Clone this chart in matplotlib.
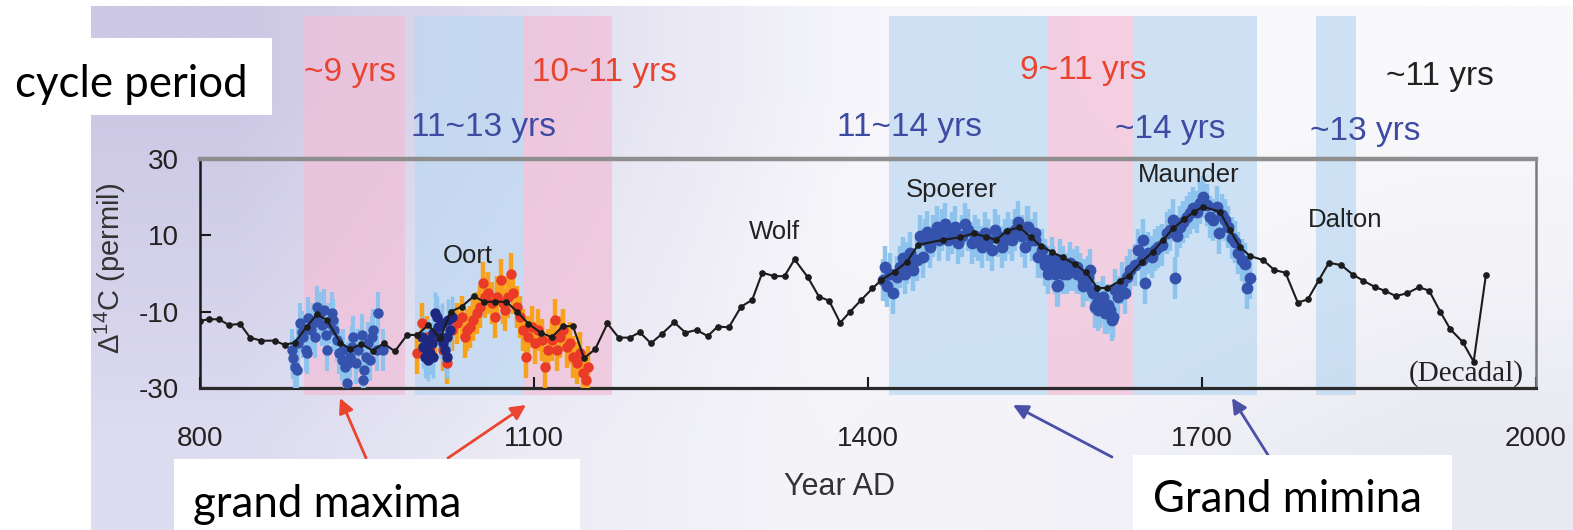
import numpy as np
import matplotlib
matplotlib.use("Agg")
import matplotlib.pyplot as plt
from matplotlib import font_manager
from matplotlib.patches import Rectangle

# ---------------- data ----------------
decadal_years = [800, 808, 817, 826, 836, 845, 855, 867, 876, 885, 896, 905, 914, 926, 935, 945, 955, 965,
                 975, 986, 995, 1005, 1016, 1025, 1035, 1046, 1055, 1065, 1075, 1085, 1095, 1106, 1116,
                 1126, 1135, 1145, 1155, 1166, 1176, 1186, 1195, 1205, 1215, 1226, 1236, 1246, 1256, 1265,
                 1275, 1286, 1296, 1305, 1316, 1325, 1334, 1346, 1356, 1365, 1375, 1384, 1394, 1404, 1412,
                 1424, 1435, 1445, 1467, 1483, 1495, 1506, 1515, 1525, 1536, 1546, 1555, 1565, 1575, 1586,
                 1596, 1606, 1615, 1626, 1634, 1646, 1656, 1665, 1674, 1684, 1693, 1701, 1716, 1725, 1734,
                 1743, 1755, 1765, 1775, 1786, 1795, 1805, 1814, 1825, 1836, 1845, 1855, 1864, 1874, 1884,
                 1895, 1904, 1914, 1923, 1934, 1944, 1955]
decadal_d14c = [-12.4, -12.0, -12.0, -13.5, -13.2, -16.8, -17.6, -17.6, -18.7, -18.1, -13.9, -10.7, -12.2,
                -18.1, -19.8, -18.5, -20.2, -18.3, -20.4, -16.1, -16.1, -13.5, -17.0, -10.0, -8.7, -5.9,
                -7.4, -7.4, -7.4, -10.0, -13.2, -15.5, -16.7, -13.8, -13.8, -22.2, -19.8, -13.1, -16.8,
                -16.8, -15.4, -18.3, -15.8, -12.8, -15.5, -14.8, -16.4, -13.9, -14.1, -8.7, -6.9, 0.2,
                -0.7, -0.7, 3.7, -1.0, -6.1, -7.1, -12.9, -10.0, -6.9, -3.9, -1.7, 0.5, 3.1, 7.5, 8.8,
                9.5, 10.5, 9.6, 8.8, 11.2, 12.1, 9.6, 7.2, 5.7, 4.2, 2.4, 0.3, -3.8, -3.8, -2.0, -0.7,
                3.1, 5.7, 8.8, 11.8, 14.2, 16.2, 17.5, 16.2, 11.4, 7.0, 4.6, 3.5, 0.9, 0.2, -7.6, -6.8,
                -1.7, 2.8, 2.2, -0.4, -1.9, -3.5, -4.5, -5.9, -5.2, -3.6, -4.5, -10.0, -14.6, -17.9,
                -23.1, -0.4]

# annual data, blue (9th-10th century)
blue_a_years = [882.3, 883.8, 885.3, 886.8, 888.3, 889.8, 891.3, 892.8, 895.2, 895.8, 897.3, 899.4, 901.8,
                903.3, 904.8, 906.3, 907.8, 909.3, 911.4, 913.2, 914.4, 916.2, 918.3, 919.8, 920.4, 922.8,
                925.1, 927.2, 928.7, 930.2, 931.7, 933.2, 934.7, 936.2, 937.7, 940.1, 942.2, 945.2, 946.7,
                947.3, 949.1, 951.2, 952.7, 954.2, 955.7, 958.7, 960.2, 964.1]
blue_a_d14c = [-20.0, -22.2, -24.4, -25.3, -18.3, -13.1, -15.2, -16.6, -20.0, -20.9, -11.7, -14.8, -13.1,
               -16.6, -8.7, -11.3, -10.4, -13.5, -9.6, -16.1, -20.0, -13.1, -10.4, -12.2, -14.8, -17.4,
               -20.9, -22.7, -20.0, -24.4, -28.8, -23.5, -21.8, -19.2, -16.6, -23.5, -20.0, -16.1, -27.9,
               -25.3, -21.8, -18.3, -22.7, -16.6, -14.8, -20.0, -10.4, -20.0]

# annual data, navy (early 11th century)
navy_years = [999.1, 1000.6, 1002.1, 1003.6, 1005.1, 1006.6, 1008.1, 1009.6, 1011.1, 1012.6, 1014.1,
              1015.6, 1017.1, 1018.6, 1020.1, 1021.6, 1023.1, 1024.6, 1026.0, 1021.6, 1005.1, 1009.6]
navy_d14c = [-16.6, -19.2, -21.8, -20.0, -22.7, -20.9, -18.3, -21.8, -10.4, -11.3, -13.9, -16.6, -13.1,
             -18.3, -20.0, -16.6, -12.2, -14.8, -11.3, -21.8, -17.5, -15.7]

# annual data, red (11th-12th century)
red_years = [995.2, 999.1, 1003.6, 1006.6, 1011.1, 1018.6, 1021.6, 1026.0, 1030.5, 1035.0, 1038.0, 1040.1,
             1042.5, 1045.5, 1048.5, 1051.5, 1054.5, 1056.0, 1059.0, 1062.0, 1065.0, 1067.1, 1070.1,
             1071.9, 1074.0, 1077.0, 1079.0, 1081.4, 1084.4, 1087.4, 1090.4, 1092.8, 1094.9, 1097.9,
             1100.9, 1103.9, 1106.9, 1109.9, 1112.9, 1115.9, 1118.9, 1120.4, 1123.4, 1126.3, 1129.3,
             1132.3, 1135.3, 1138.3, 1141.3, 1144.3, 1146.7, 1148.8]
red_d14c = [-20.9, -13.1, -16.6, -19.2, -16.6, -20.0, -23.5, -14.8, -13.1, -11.3, -16.6, -14.8, -13.9,
            -12.2, -10.4, -8.7, -2.6, -6.1, -5.2, -7.8, -11.3, -6.1, -1.7, -7.8, -9.6, -6.1, 0.0, -5.2,
            -8.7, -11.3, -14.8, -21.8, -16.6, -13.9, -18.3, -14.8, -17.4, -24.4, -20.0, -17.4, -12.2,
            -20.0, -16.6, -14.8, -19.2, -18.3, -21.8, -23.5, -20.9, -26.2, -27.9, -24.4]

# annual data, blue (15th-18th century)
blue_b_years = [1413.8, 1415.3, 1416.8, 1419.8, 1422.8, 1425.8, 1428.8, 1431.2, 1433.3, 1434.8, 1437.8,
                1440.8, 1443.8, 1446.8, 1449.2, 1451.3, 1453.3, 1455.7, 1458.7, 1461.7, 1464.1, 1466.2,
                1469.2, 1472.2, 1475.2, 1478.2, 1481.2, 1484.2, 1487.2, 1490.2, 1493.2, 1496.2, 1499.2,
                1502.2, 1505.2, 1508.2, 1511.1, 1514.1, 1517.1, 1520.1, 1523.1, 1526.1, 1529.1, 1532.1,
                1535.1, 1538.1, 1541.1, 1544.1, 1547.1, 1550.1, 1553.1, 1556.1, 1559.0, 1562.0, 1565.0,
                1568.0, 1570.1, 1572.5, 1575.5, 1578.5, 1581.5, 1584.5, 1587.5, 1590.5, 1593.5, 1596.5,
                1599.5, 1602.5, 1605.5, 1608.5, 1611.5, 1614.4, 1617.4, 1620.4,
                1542.5, 1550.0, 1554.5, 1559.0, 1562.0, 1566.4, 1570.9, 1575.4, 1581.4, 1587.4, 1593.4,
                1597.9,
                1600.9, 1603.9, 1606.9, 1609.9, 1612.8, 1615.8, 1618.8, 1621.8, 1624.8, 1627.8, 1630.8,
                1632.3, 1635.3, 1639.8, 1642.8, 1645.8, 1647.3, 1648.8, 1651.8, 1654.8, 1657.8, 1660.8,
                1663.7, 1668.2, 1671.2, 1674.2, 1675.7, 1677.2, 1680.2, 1683.2, 1686.2, 1689.2, 1692.2,
                1695.2, 1698.2, 1701.2, 1704.2, 1707.2, 1710.1, 1713.1, 1715.5, 1717.6, 1720.6, 1723.6,
                1726.6, 1729.6, 1732.6, 1735.6, 1738.6, 1740.1, 1743.1]
blue_b_d14c = [-1.7, 1.8, -3.4, 0.0, -5.2, -0.8, 1.8, 4.0, 0.0, 2.7, 5.3, 0.9, 3.5, 9.7, 4.4, 8.8, 11.0,
               7.0, 9.7, 12.3, 8.8, 11.4, 13.1, 8.8, 10.5, 12.3, 7.9, 9.7, 13.1, 11.4, 7.9, 9.7, 8.8, 7.0,
               10.5, 8.8, 6.2, 11.4, 9.7, 7.0, 8.8, 10.5, 8.8, 11.4, 13.6, 9.7, 7.0, 12.3, 8.8, 10.5, 4.4,
               6.2, 3.5, 1.8, 4.0, 0.0, -3.4, 3.5, 1.8, 0.0, 2.7, 0.9, 1.8, 0.0, -3.4, -1.7, 0.9, -5.2,
               -7.8, -8.7, -6.1, -10.4, -9.6, -11.3,
               12.3, 8.8, 4.4, 2.2, 0.0, 1.8, -3.0, 0.0, 0.9, 0.0, -1.7, -0.8,
               -4.3, -8.7, -9.6, -7.4, -10.4, -8.3, -12.2, -4.3, -6.1, -2.6, -5.2, -0.8, 0.9, 2.2, 6.2,
               3.5, 8.8, -2.6, 5.3, 4.4, 6.2, 7.0, 7.5, 10.5, 11.4, 14.0, -1.3, 9.7, 12.3, 13.6, 14.9,
               15.8, 17.1, 16.2, 18.4, 20.1, 17.9, 14.9, 14.0, 17.5, 10.5, 15.3, 14.0, 12.3, 9.2, 8.3, 5.3,
               3.5, 2.6, -3.9, -1.3]

annual_err = 5.5  # typical uncertainty of annual data (permil)

# shaded periods: (start, end, kind)
band_start = [893, 993, 1090, 1419, 1562, 1638, 1802]
band_end = [984, 1090, 1170, 1562, 1638, 1749, 1838]
band_kind = ["max", "min", "max", "min", "max", "min", "min"]

x_ticks = [800, 1100, 1400, 1700, 2000]
y_ticks = [30, 10, -10, -30]

period_labels = ["~9 yrs", "10~11 yrs", "11~13 yrs", "11~14 yrs", "9~11 yrs", "~14 yrs", "~11 yrs", "~13 yrs"]
event_labels = ["Oort", "Wolf", "Spoerer", "Maunder", "Dalton"]

# ---------------- fonts ----------------
names = {f.name for f in font_manager.fontManager.ttflist}
NARROW = "Liberation Sans Narrow" if "Liberation Sans Narrow" in names else "Liberation Sans"
SANS = "Liberation Sans"
SERIF = "Liberation Serif"
BIG = "Lato"
plt.rcParams["font.family"] = [SANS, "DejaVu Sans"]
plt.rcParams["mathtext.fontset"] = "custom"
plt.rcParams["mathtext.rm"] = NARROW
plt.rcParams["mathtext.it"] = NARROW
plt.rcParams["mathtext.bf"] = NARROW

W, H = 1573, 530
fig = plt.figure(figsize=(W / 100, H / 100), dpi=100)
fig.patch.set_facecolor("white")


def fx(px):
    return px / W


def fy(py):
    return 1 - py / H


# ---------------- background gradient ----------------
bg = fig.add_axes([fx(91), 0, 1 - fx(91), fy(6)], zorder=-5)
grid = np.array([
    [[204, 200, 229], [223, 221, 239], [244, 244, 250], [250, 250, 252], [249, 249, 252]],
    [[212, 209, 234], [229, 228, 243], [246, 246, 250], [247, 247, 250], [243, 243, 248]],
    [[221, 220, 240], [236, 235, 246], [245, 245, 249], [241, 241, 247], [233, 233, 242]],
], dtype=float) / 255.0
bg.imshow(grid, aspect="auto", interpolation="bilinear", extent=[0, 1, 0, 1])
bg.set_axis_off()

# ---------------- main axes ----------------
ax = fig.add_axes([fx(200), fy(388), fx(1536) - fx(200), fy(159) - fy(388)], zorder=0)
ax.set_facecolor("none")
ax.set_xlim(800, 2000)
ax.set_ylim(-30, 30)

band_colors = {"max": ("#f1bfd8", 0.72), "min": ("#bcd8f2", 0.70)}
for s, e, k in zip(band_start, band_end, band_kind):
    c, a = band_colors[k]
    ax.axvspan(s, e, ymin=-0.031, ymax=1.624, color=c, alpha=a, lw=0, clip_on=False, zorder=0)

eb_kw = dict(fmt="o", capsize=0, zorder=3)
ax.errorbar(blue_a_years, blue_a_d14c, yerr=annual_err, color="#3553ad", ecolor="#8dc3ec",
            elinewidth=3, ms=6.5, **eb_kw)
ax.errorbar(red_years, red_d14c, yerr=annual_err, color="#ea3a28", ecolor="#f6a21e",
            elinewidth=3.2, ms=6.5, **eb_kw)
ax.errorbar(navy_years, navy_d14c, yerr=annual_err, color="#1f2880", ecolor="#8dc3ec",
            elinewidth=2.5, ms=6.5, **eb_kw)
ax.errorbar(blue_b_years, blue_b_d14c, yerr=annual_err, color="#3553ad", ecolor="#8dc3ec",
            elinewidth=3.2, ms=7.5, **eb_kw)

ax.plot(decadal_years, decadal_d14c, "-o", color="#1c1c1c", lw=1.5, ms=3.8, zorder=5)

ax.set_xticks(x_ticks)
ax.set_yticks(y_ticks)
ax.set_xticklabels([str(t) for t in x_ticks], fontfamily=NARROW, fontsize=20, color="#222222")
ax.set_yticklabels([str(t) for t in y_ticks], fontfamily=NARROW, fontsize=20, color="#222222")
ax.tick_params(axis="both", direction="in", length=8, width=1.5, color="#1a1a1a")
ax.tick_params(axis="x", pad=27)
ax.tick_params(axis="y", pad=15)

ax.spines["top"].set_color("#8e8e8e")
ax.spines["top"].set_linewidth(3.2)
ax.spines["right"].set_color("#7a7a7a")
ax.spines["right"].set_linewidth(1.8)
ax.spines["left"].set_color("#1a1a1a")
ax.spines["left"].set_linewidth(1.8)
ax.spines["bottom"].set_color("#2a2a2a")
ax.spines["bottom"].set_linewidth(2.3)

# event labels inside plot
ev_pos = [(468, 256), (774, 232), (952, 190), (1189, 175), (1345, 220)]
for lab, (px, py) in zip(event_labels, ev_pos):
    fig.text(fx(px), fy(py), lab, ha="center", va="center", fontsize=18.5, color="#222222",
             family=SANS)
fig.text(fx(1466), fy(374), "(Decadal)", ha="center", va="center", fontsize=21, color="#222222",
         family=SERIF)

# axis labels
fig.text(fx(110), fy(268), r"$\Delta^{14}$C (permil)", rotation=90, ha="center", va="center",
         fontsize=21, color="#333333", family=NARROW)
fig.text(fx(840), fy(487), "Year AD", ha="center", va="center", fontsize=22, color="#333333",
         family=NARROW)

# period labels above
RED, BLUE, BLACK = "#ea4430", "#3d4ba3", "#222222"
per_pos = [(350, 72, RED), (604, 72, RED), (483, 127, BLUE), (910, 127, BLUE), (1083, 70, RED),
           (1170, 130, BLUE), (1440, 76, BLACK), (1365, 131, BLUE)]
for lab, (px, py, col) in zip(period_labels, per_pos):
    fig.text(fx(px), fy(py), lab, ha="center", va="center", fontsize=24, color=col, family=SANS,
             zorder=5)

# arrows
arrows = [((340, 398), (366, 458), "#e9452f"), ((526, 405), (448, 458), "#e9452f"),
          ((1013, 405), (1112, 457), "#4a50a8"), ((1232, 398), (1268, 455), "#4a50a8")]
for tip, tail, col in arrows:
    ax.annotate("", xy=(fx(tip[0]), fy(tip[1])), xycoords="figure fraction",
                xytext=(fx(tail[0]), fy(tail[1])), textcoords="figure fraction",
                arrowprops=dict(arrowstyle="-|>", color=col, lw=2, mutation_scale=22,
                                shrinkA=0, shrinkB=0),
                annotation_clip=False, zorder=6)

# white boxes with big labels
boxes = [((0, 38), (272, 115)), ((174, 459), (580, 530)), ((1133, 455), (1452, 530))]
for (x0, y0), (x1, y1) in boxes:
    fig.patches.append(Rectangle((fx(x0), fy(y1)), fx(x1) - fx(x0), fy(y0) - fy(y1),
                                 transform=fig.transFigure, facecolor="white", edgecolor="none",
                                 zorder=8))
big = [("cycle period", 15, 97), ("grand maxima", 193, 517), ("Grand mimina", 1153, 512)]
for lab, px, py in big:
    fig.text(fx(px), fy(py), lab, ha="left", va="baseline", fontsize=31.5, color="black",
             family=[BIG, "DejaVu Sans"], zorder=9)

fig.savefig("out.png", dpi=100)
